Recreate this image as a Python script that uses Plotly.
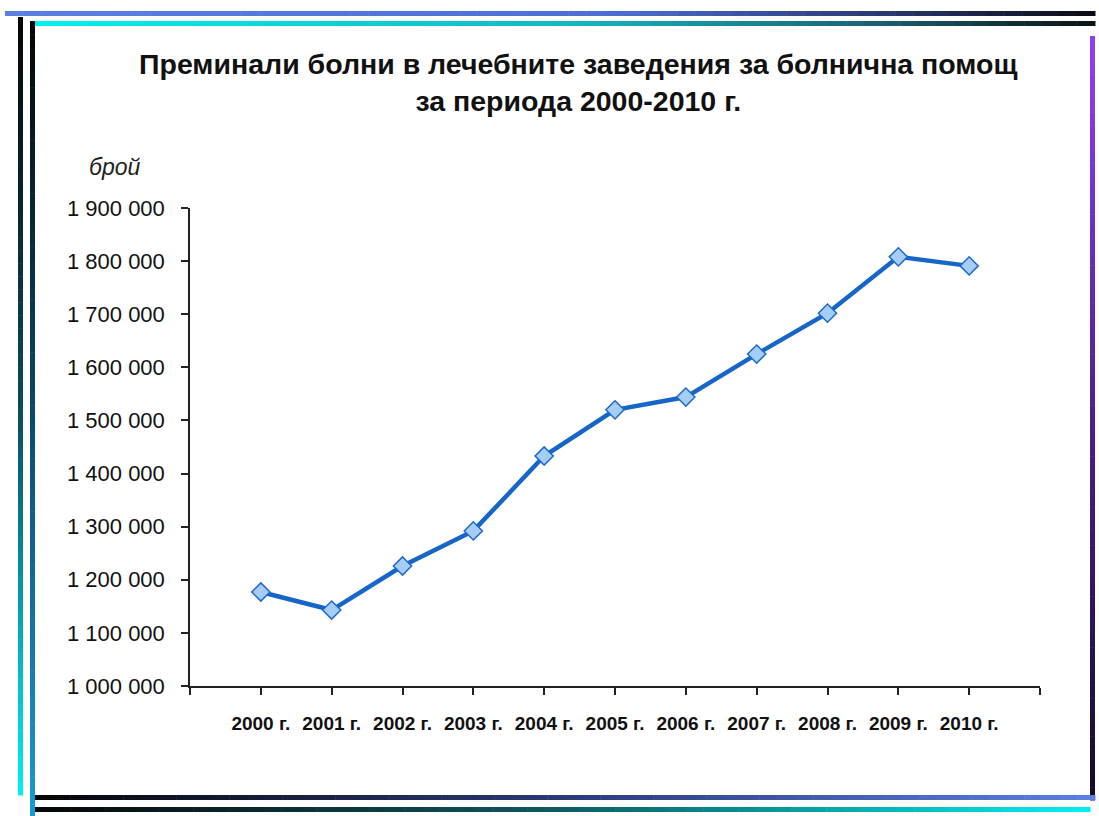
import plotly.graph_objects as go

# ---- data ----
years = ["2000 г.", "2001 г.", "2002 г.", "2003 г.", "2004 г.", "2005 г.",
         "2006 г.", "2007 г.", "2008 г.", "2009 г.", "2010 г."]
patients = [1177000, 1143000, 1226000, 1292000, 1433000, 1520000,
            1544000, 1625000, 1702000, 1808000, 1791000]
y_ticks = [1000000, 1100000, 1200000, 1300000, 1400000, 1500000,
           1600000, 1700000, 1800000, 1900000]
y_tick_text = ["1 000 000", "1 100 000", "1 200 000", "1 300 000", "1 400 000",
               "1 500 000", "1 600 000", "1 700 000", "1 800 000", "1 900 000"]
title_lines = ["Преминали болни в лечебните заведения за болнична помощ",
               "за периода 2000-2010 г."]
y_unit = "брой"

W, H = 1099, 816
L, R, T, B = 190, 1040, 208, 686

x_idx = list(range(len(years)))

fig = go.Figure()
fig.add_trace(go.Scatter(
    x=x_idx, y=patients, mode="lines+markers",
    line=dict(color="#1666c9", width=4.5),
    marker=dict(symbol="diamond", size=14, color="#a6cdf5",
                line=dict(color="#1e6acb", width=1.5)),
    hoverinfo="x+y", showlegend=False))

tickvals = [-1] + x_idx + [len(years)]
ticktext = [""] + years + [""]

fig.update_layout(
    width=W, height=H,
    margin=dict(l=L, r=W - R, t=T, b=H - B, pad=0),
    paper_bgcolor="white", plot_bgcolor="white",
    font=dict(family="Liberation Sans, Arial, sans-serif", color="#111111"),
    xaxis=dict(range=[-1, len(years)], tickmode="array", tickvals=tickvals,
               ticktext=ticktext, showgrid=False, zeroline=False,
               showline=True, linecolor="#222222", linewidth=1.5,
               ticks="outside", ticklen=7, tickwidth=1.5, tickcolor="#222222",
               ticklabelstandoff=12,
               tickfont=dict(family="Liberation Sans Narrow, Arial Narrow, Liberation Sans, sans-serif",
                             size=19, color="#111111", weight="bold"),
               fixedrange=True),
    yaxis=dict(range=[1000000, 1900000], tickmode="array", tickvals=y_ticks,
               ticktext=y_tick_text, showgrid=False, zeroline=False,
               showline=True, linecolor="#222222", linewidth=1.5,
               ticks="outside", ticklen=7, tickwidth=1.5, tickcolor="#222222",
               ticklabelstandoff=12,
               tickfont=dict(size=22, color="#111111"), fixedrange=True),
)

# title
fig.add_annotation(text="<b>" + title_lines[0] + "<br>" + title_lines[1] + "</b>",
                   xref="paper", yref="paper",
                   x=(578 - L) / (R - L), y=(B - 83) / (B - T),
                   xanchor="center", yanchor="middle", showarrow=False,
                   font=dict(size=28.5, color="#111111"), align="center")
# unit label
fig.add_annotation(text="<i>" + y_unit + "</i>", xref="paper", yref="paper",
                   x=(115 - L) / (R - L), y=(B - 167) / (B - T),
                   xanchor="center", yanchor="middle", showarrow=False,
                   font=dict(size=23, color="#222222"))


# ---- decorative gradient frame ----
def hex2rgb(h):
    h = h.lstrip("#")
    return tuple(int(h[i:i + 2], 16) for i in (0, 2, 4))


def interp(stops, t):
    for (t0, c0), (t1, c1) in zip(stops[:-1], stops[1:]):
        if t <= t1:
            f = 0 if t1 == t0 else (t - t0) / (t1 - t0)
            a, b = hex2rgb(c0), hex2rgb(c1)
            return "rgb(%d,%d,%d)" % tuple(round(a[i] + (b[i] - a[i]) * f) for i in range(3))
    return "rgb(%d,%d,%d)" % hex2rgb(stops[-1][1])


def px(xp):
    return (xp - L) / (R - L)


def py(yp):
    return (B - yp) / (B - T)


def bar(x0, y0, x1, y1, stops, horizontal, n=60):
    for i in range(n):
        t0, t1 = i / n, (i + 1) / n
        c = interp(stops, (t0 + t1) / 2)
        if horizontal:
            a0, a1 = x0 + (x1 - x0) * t0, x0 + (x1 - x0) * t1
            fig.add_shape(type="rect", xref="paper", yref="paper",
                          x0=px(a0), x1=px(a1 + 0.5), y0=py(y0), y1=py(y1),
                          fillcolor=c, line_width=0, layer="above")
        else:
            b0, b1 = y0 + (y1 - y0) * t0, y0 + (y1 - y0) * t1
            fig.add_shape(type="rect", xref="paper", yref="paper",
                          x0=px(x0), x1=px(x1), y0=py(b0), y1=py(b1 + 0.5),
                          fillcolor=c, line_width=0, layer="above")


# top lines
bar(5, 11, 1095, 16, [(0, "#5b80e2"), (0.55, "#4d6fd6"), (0.8, "#2a3a72"), (1, "#0a0a14")], True)
bar(33, 21, 1095, 26, [(0, "#00f0f2"), (0.5, "#14b8c6"), (0.8, "#1a6070"), (1, "#0a1212")], True)
# left lines
bar(18, 17, 23, 795, [(0, "#050505"), (0.5, "#0a4a5a"), (1, "#00eef8")], False)
bar(30, 21, 35, 816, [(0, "#050505"), (0.5, "#0c4a6a"), (1, "#1a9ad8")], False)
# right line
bar(1090, 36, 1095, 800, [(0, "#9040f2"), (0.5, "#4a2090"), (1, "#140a28")], False)
# bottom lines
bar(35, 795, 1095, 800, [(0, "#050505"), (0.5, "#2a3a78"), (1, "#5b80e2")], True)
bar(35, 807, 1090, 812, [(0, "#050505"), (0.5, "#0e5a64"), (1, "#00f0f2")], True)

fig.write_html("out.html", config={"displayModeBar": False},
               post_script="document.body.style.margin='0';")
